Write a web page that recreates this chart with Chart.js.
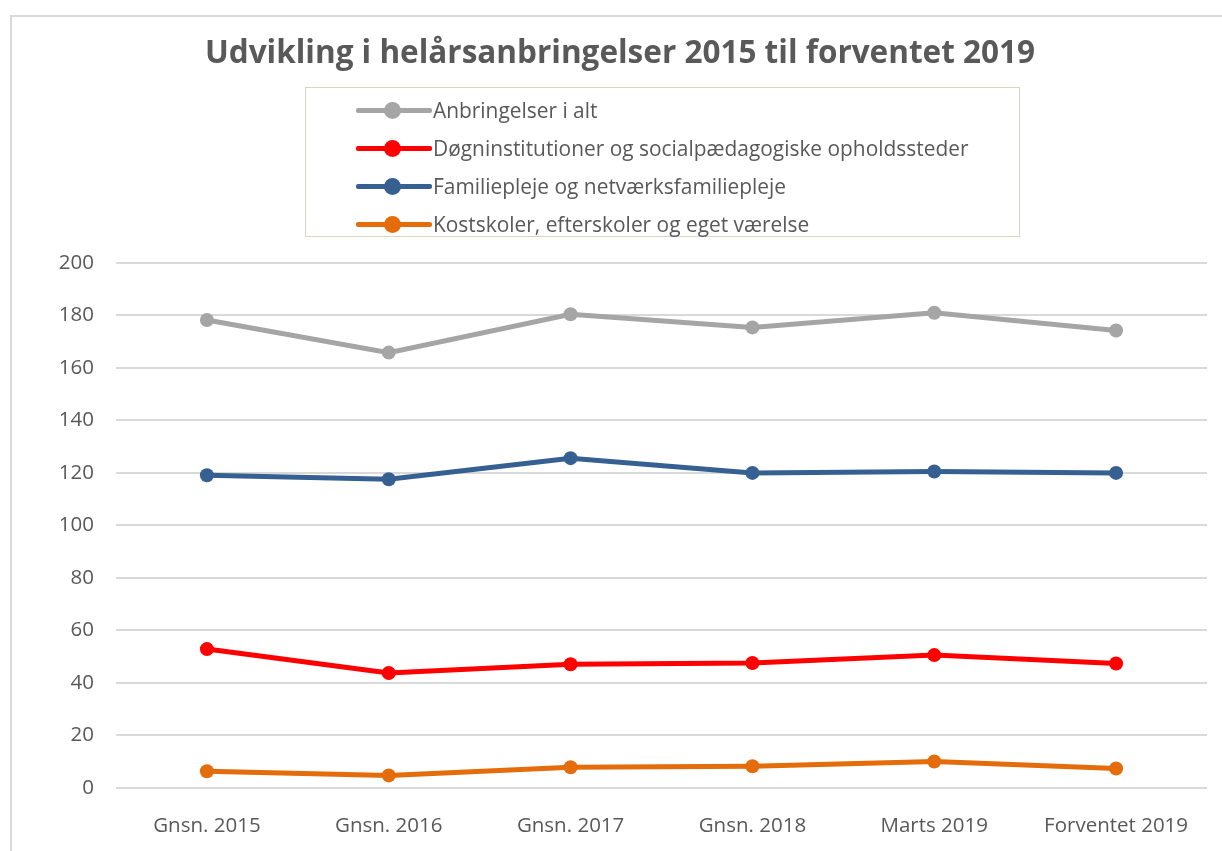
<!DOCTYPE html>
<html>
<head>
<meta charset="utf-8">
<script src="https://cdn.jsdelivr.net/npm/chart.js@4.4.1/dist/chart.umd.min.js"></script>
<style>
  html, body { margin: 0; padding: 0; background: #fff; }
  #wrap { position: relative; width: 1222px; height: 851px; overflow: hidden; }
  #frame { position: absolute; left: 10px; top: 15px; width: 1300px; height: 900px; border: 2px solid #d9d9d9; box-sizing: border-box; }
  #chart { position: absolute; left: 0; top: 0; }
  #legend { position: absolute; left: 305px; top: 87px; width: 715px; height: 150px; border: 1px solid #d8d5c0; box-sizing: border-box; padding: 3px 0 0 50px; font-family: "Open Sans", sans-serif; font-size: 20.9px; color: #595959; }
  .item { height: 38px; display: flex; align-items: center; }
  .sample { position: relative; width: 76px; height: 14px; margin-right: 1px; }
  .sample .ln { position: absolute; left: 0; right: 0; top: 5px; height: 5px; border-radius: 2px; }
  .sample .dot { position: absolute; left: 28px; top: -1px; width: 17px; height: 17px; border-radius: 50%; }
</style>
</head>
<body>
<div id="wrap">
  <div id="frame"></div>
  <canvas id="chart" width="1222" height="851"></canvas>
  <div id="legend"></div>
</div>
<script>
const categories = ['Gnsn. 2015', 'Gnsn. 2016', 'Gnsn. 2017', 'Gnsn. 2018', 'Marts 2019', 'Forventet 2019'];
const anbringelserIAlt = [178.2, 165.8, 180.4, 175.4, 181, 174.2];
const doegninstitutioner = [52.9, 43.8, 47.1, 47.6, 50.6, 47.4];
const familiepleje = [119.1, 117.6, 125.6, 120, 120.5, 120];
const kostskoler = [6.4, 4.8, 7.9, 8.3, 10.1, 7.4];
const yTicks = [0, 20, 40, 60, 80, 100, 120, 140, 160, 180, 200];

const seriesNames = [
  'Anbringelser i alt',
  'Døgninstitutioner og socialpædagogiske opholdssteder',
  'Familiepleje og netværksfamiliepleje',
  'Kostskoler, efterskoler og eget værelse'
];
const seriesColors = ['#a5a5a5', '#ff0000', '#376092', '#e46c0a'];
const seriesData = [anbringelserIAlt, doegninstitutioner, familiepleje, kostskoler];

const textColor = '#595959';
const font = '"Open Sans", sans-serif';

const ctx = document.getElementById('chart').getContext('2d');
const chart = new Chart(ctx, {
  type: 'line',
  data: {
    labels: categories,
    datasets: seriesNames.map((name, i) => ({
      label: name,
      data: seriesData[i],
      borderColor: seriesColors[i],
      backgroundColor: seriesColors[i],
      borderWidth: 5,
      pointRadius: 7,
      pointHoverRadius: 7,
      pointBorderWidth: 0,
      tension: 0
    }))
  },
  options: {
    responsive: false,
    animation: false,
    layout: { padding: { left: 33, right: 15, top: 0, bottom: 0 } },
    plugins: {
      legend: { display: false },
      tooltip: { enabled: false },
      title: {
        display: true,
        text: 'Udvikling i helårsanbringelser 2015 til forventet 2019',
        color: textColor,
        font: { family: font, size: 31.5, weight: 'bold' },
        padding: { top: 35, bottom: 190 }
      }
    },
    scales: {
      x: {
        offset: true,
        grid: { display: false },
        border: { display: false },
        afterFit: (scale) => { scale.height = 63; },
        ticks: { color: textColor, font: { family: font, size: 20.5 }, padding: 18, maxRotation: 0 }
      },
      y: {
        min: 0,
        max: 200,
        afterBuildTicks: (scale) => { scale.ticks = yTicks.map(v => ({ value: v })); },
        afterFit: (scale) => { scale.width = 83; },
        grid: { color: '#d9d9d9', lineWidth: 2, drawTicks: false },
        border: { display: false },
        ticks: { color: textColor, font: { family: font, size: 20.5 }, padding: 22 }
      }
    }
  }
});

const legend = document.getElementById('legend');
chart.data.datasets.forEach(ds => {
  const row = document.createElement('div');
  row.className = 'item';
  row.innerHTML = '<span class="sample"><span class="ln" style="background:' + ds.borderColor + '"></span>' +
    '<span class="dot" style="background:' + ds.borderColor + '"></span></span><span>' + ds.label + '</span>';
  legend.appendChild(row);
});
</script>
</body>
</html>
